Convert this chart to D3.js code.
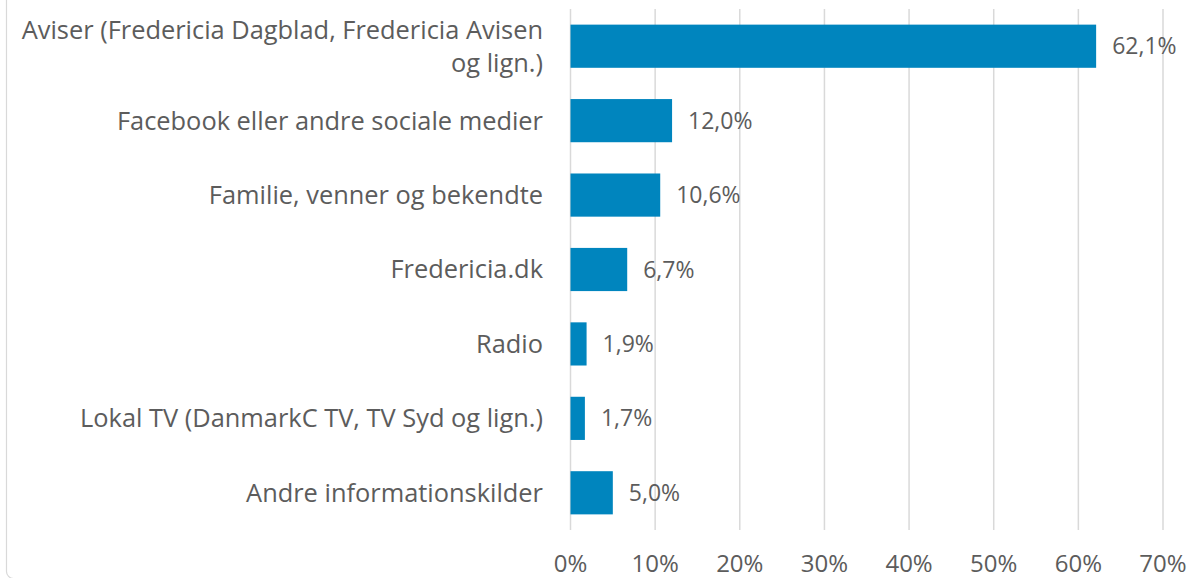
<!DOCTYPE html>
<html>
<head>
<meta charset="utf-8">
<script src="https://cdn.jsdelivr.net/npm/d3@7"></script>
<style>
  body { margin: 0; background: #fff; }
  svg text { font-family: "Open Sans", sans-serif; fill: #5c5c5c; }
</style>
</head>
<body>
<svg id="chart" width="1192" height="578"></svg>
<script>
// data
var categories = [
  ["Aviser (Fredericia Dagblad, Fredericia Avisen", "og lign.)"],
  ["Facebook eller andre sociale medier"],
  ["Familie, venner og bekendte"],
  ["Fredericia.dk"],
  ["Radio"],
  ["Lokal TV (DanmarkC TV, TV Syd og lign.)"],
  ["Andre informationskilder"]
];
var values = [62.1, 12.0, 10.6, 6.7, 1.9, 1.7, 5.0];
var tickValues = [0, 10, 20, 30, 40, 50, 60, 70];

var svg = d3.select('#chart');

// outer frame (only the left edge + bottom-left corner shows)
svg.append('rect')
  .attr('x', 6.5).attr('y', -20)
  .attr('width', 1250).attr('height', 598.5)
  .attr('rx', 7)
  .attr('fill', 'none')
  .attr('stroke', '#d9d9d9')
  .attr('stroke-width', 1.2);

var x = d3.scaleLinear().domain([0, 70]).range([570.5, 1163]);
var y = d3.scaleBand().domain(d3.range(categories.length)).range([9, 530]).paddingInner(0.42).paddingOuter(0.21);

/* grid */
svg.append('g').selectAll('line').data(tickValues).enter().append('line')
  .attr('x1', d => x(d)).attr('x2', d => x(d))
  .attr('y1', 9).attr('y2', 530)
  .attr('stroke', '#d9d9d9')
  .attr('stroke-width', 1.5);

/* bars */
svg.append('g').selectAll('rect').data(values).enter().append('rect')
  .attr('x', x(0))
  .attr('y', (d, i) => y(i))
  .attr('width', d => x(d) - x(0))
  .attr('height', y.bandwidth())
  .attr('fill', '#0085be');

/* value labels */
svg.append('g').selectAll('text').data(values).enter().append('text')
  .attr('x', d => x(d) + 16)
  .attr('y', (d, i) => y(i) + y.bandwidth() / 2)
  .attr('dy', '0.35em')
  .style('font-size', '23px')
  .text(d => d.toFixed(1).replace('.', ',') + '%');

/* category labels */
var lineH = 33;
svg.append('g').selectAll('text').data(categories).enter().append('text')
  .attr('text-anchor', 'end')
  .style('font-size', '25.4px')
  .each(function(lines, i) {
    var cy = y(i) + y.bandwidth() / 2;
    var t = d3.select(this);
    lines.forEach(function(l, k) {
      t.append('tspan')
        .attr('x', 543)
        .attr('y', cy + (k - (lines.length - 1) / 2) * lineH)
        .attr('dy', '0.35em')
        .text(l);
    });
  });

/* x axis labels */
svg.append('g').selectAll('text').data(tickValues).enter().append('text')
  .attr('x', d => x(d))
  .attr('y', 564)
  .attr('dy', '0.35em')
  .attr('text-anchor', 'middle')
  .style('font-size', '24px')
  .text(d => d + '%');
</script>
</body>
</html>
